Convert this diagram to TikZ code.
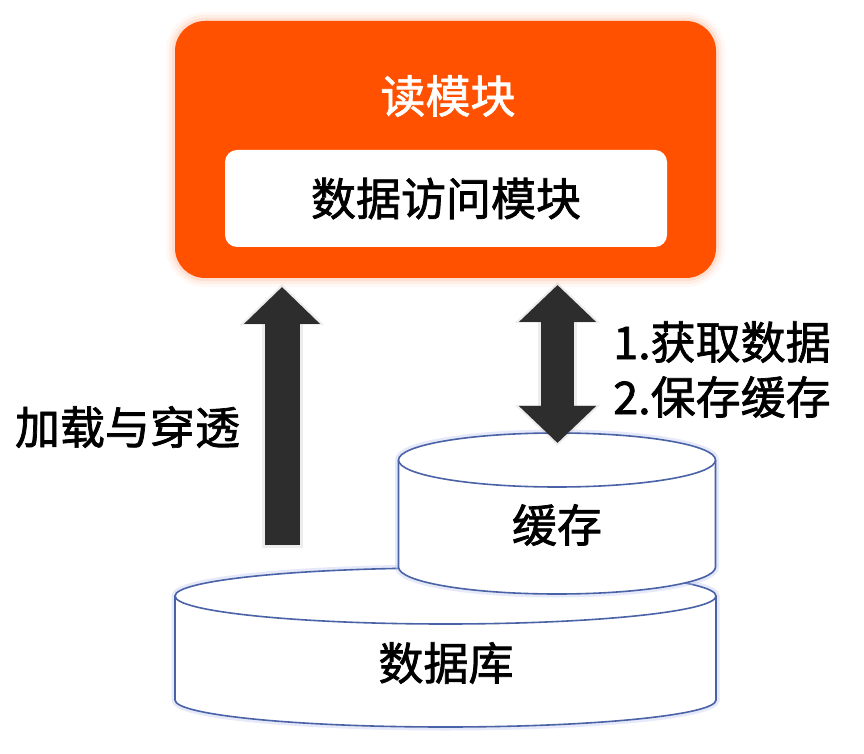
\documentclass[tikz,border=0pt]{standalone}
\usepackage{fontspec}
\newfontfamily\cjk[FakeBold=1.6]{Noto Sans CJK SC}
\usetikzlibrary{arrows.meta}
\definecolor{orng}{HTML}{FF5100}
\definecolor{arrowgray}{HTML}{2D2D2D}
\definecolor{cylblue}{HTML}{4A62A6}
\definecolor{glowblue}{HTML}{B8C2F0}
\begin{document}
\begin{tikzpicture}[x=1pt,y=1pt,
  lbl/.style={font=\cjk\fontsize{45}{54}\selectfont, inner sep=0pt},
  cyl/.style={draw=cylblue, line width=1.6pt, fill=white},
  cylglow/.style={draw=glowblue, line width=7pt, opacity=0.35},
  blockup/.style={draw=arrowgray, line width=35pt, -{Triangle[width=74pt,length=37pt]}},
  blockboth/.style={draw=arrowgray, line width=33pt, {Triangle[width=75pt,length=37pt]}-{Triangle[width=75pt,length=37pt]}},
  glowup/.style={draw=black, opacity=0.07, line width=41pt, -{Triangle[width=82pt,length=41pt]}},
  glowboth/.style={draw=black, opacity=0.07, line width=39pt, {Triangle[width=83pt,length=41pt]}-{Triangle[width=83pt,length=41pt]}},
  orangebox/.style={fill=orng, rounded corners=30pt, minimum width=541pt, minimum height=257pt, inner sep=0pt},
  whitebox/.style={fill=white, rounded corners=12pt, minimum width=442pt, minimum height=97pt, inner sep=0pt, font=\cjk\fontsize{45}{54}\selectfont}
]
\useasboundingbox (0,0) rectangle (864,753);
\fill[white] (0,0) rectangle (864,753);

% glow of the read module
\foreach \w/\o in {18/0.04,12/0.06,6/0.09}
  \draw[orng, opacity=\o, line width=\w pt, rounded corners=30pt] (175,475) rectangle (716,732);
\node[orangebox] (readmod) at (445.5,603.5) {};
\node[lbl, text=white] (readlbl) at (448,657) {读模块};
\node[whitebox] (dam) at (446,554.5) {数据访问模块};

% database cylinder
\draw[cylglow] (175,157) -- (175,53) arc[start angle=180,end angle=360,x radius=270.5,y radius=27] -- (716,157) arc[start angle=0,end angle=180,x radius=270.5,y radius=28] -- cycle;
\filldraw[cyl] (175,157) -- (175,53) arc[start angle=180,end angle=360,x radius=270.5,y radius=27] -- (716,157) arc[start angle=0,end angle=180,x radius=270.5,y radius=28] -- cycle;
\draw[cyl] (175,157) arc[start angle=180,end angle=360,x radius=270.5,y radius=28];
\node[lbl] (db) at (446,90) {数据库};

% cache cylinder
\draw[cylglow] (398.5,293) -- (398.5,186) arc[start angle=180,end angle=360,x radius=158.5,y radius=27] -- (715.5,293) arc[start angle=0,end angle=180,x radius=158.5,y radius=27] -- cycle;
\filldraw[cyl] (398.5,293) -- (398.5,186) arc[start angle=180,end angle=360,x radius=158.5,y radius=27] -- (715.5,293) arc[start angle=0,end angle=180,x radius=158.5,y radius=27] -- cycle;
\draw[cyl] (398.5,293) arc[start angle=180,end angle=360,x radius=158.5,y radius=27];
\node[lbl] (cache) at (557,228) {缓存};

% arrows
\coordinate (la0) at (282,208);
\coordinate (la1) at (282,466);
\coordinate (ra0) at (557.5,310);
\coordinate (ra1) at (557.5,468);
\coordinate (lg0) at (282,205);
\coordinate (lg1) at (282,469);
\coordinate (rg0) at (557.5,307);
\coordinate (rg1) at (557.5,471);
\draw[glowup] (lg0) -- (lg1);
\draw[glowboth] (rg0) -- (rg1);
\draw[blockup] (la0) -- (la1);
\draw[blockboth] (ra0) -- (ra1);

% labels
\node[lbl] (loadlbl) at (127.5,326) {加载与穿透};
\node[lbl, anchor=west] (step1) at (613,411) {1.获取数据};
\node[lbl, anchor=west] (step2) at (613,356) {2.保存缓存};
\end{tikzpicture}
\end{document}
